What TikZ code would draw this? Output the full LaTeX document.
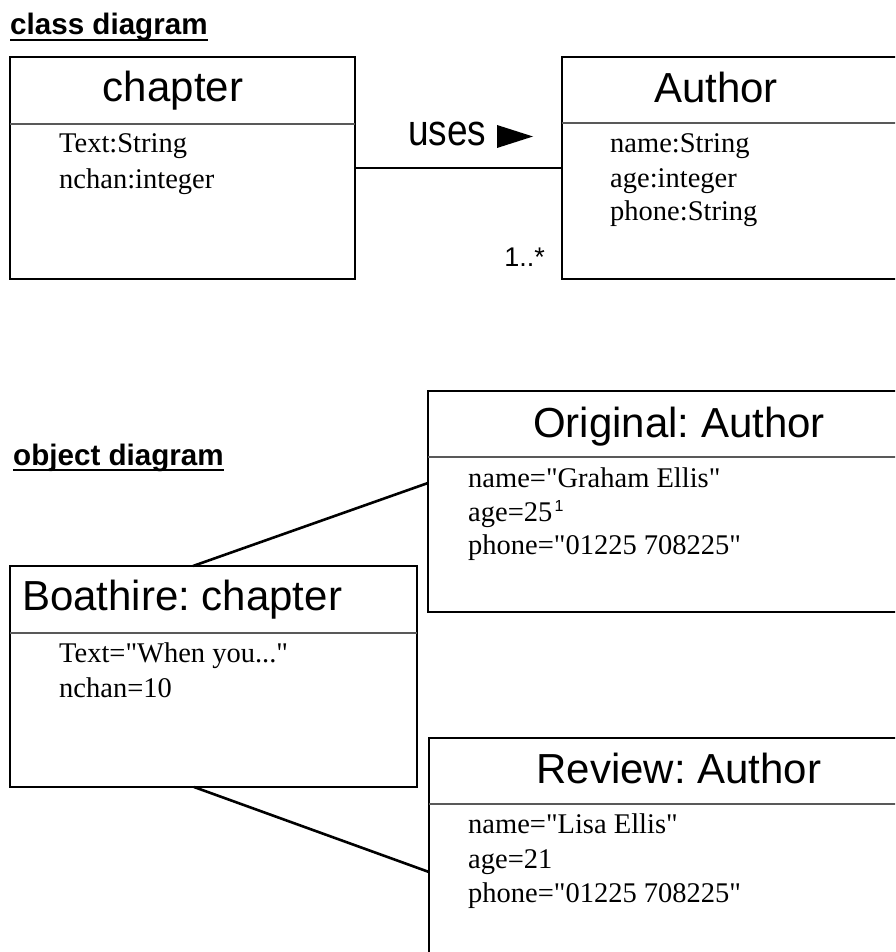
\documentclass[tikz,border=0pt]{standalone}
\usepackage{fontspec}
\setmainfont{Liberation Serif}[Ligatures=TeXOff]
\newfontfamily\arialf{Liberation Sans}[Ligatures=TeXOff]
\frenchspacing
\begin{document}
\begin{tikzpicture}[x=1pt,y=-1pt,
  umlbox/.style={draw, line width=2.6pt, rectangle, anchor=north west, inner sep=0pt, outer sep=0pt},
  divider/.style={line width=1.2pt, draw=black!65},
  titletext/.style={font=\arialf\fontsize{42}{48}\selectfont, anchor=base, inner sep=0pt},
  attr/.style={font=\fontsize{28.5}{34}\selectfont, anchor=base west, inner sep=0pt},
  heading/.style={font=\arialf\bfseries\fontsize{29.6}{33}\selectfont, anchor=base west, inner sep=0pt},
  headrule/.style={line width=2.2pt},
  assoc/.style={line width=2.6pt},
  sanslabel/.style={font=\arialf\fontsize{#1}{#1}\selectfont, inner sep=0pt}]

\useasboundingbox (0,0) rectangle (895,952);
\clip (0,0) rectangle (895,952);
\fill[white] (0,0) rectangle (895,952);

% ---------- class diagram ----------
\node[heading] (hclass) at (10,35) {class diagram};
\draw[headrule] ([yshift=-5pt]hclass.base west) -- ([yshift=-5pt]hclass.base east);

\node[umlbox, minimum width=345pt, minimum height=222pt] (chapter) at (10,57) {};
\draw[divider] (chapter.west |- 0,124) -- (chapter.east |- 0,124);
\node[titletext] (chaptitle) at (173,102) {chapter};
\node[attr] (ch1) at (59,153) {Text:String};
\node[attr] (ch2) at (59,188) {nchan:integer};

\node[umlbox, minimum width=345pt, minimum height=222pt] (author) at (562,57) {};
\draw[divider] (author.west |- 0,123) -- (author.east |- 0,123);
\node[titletext] (authtitle) at (716,103) {Author};
\node[attr] (au1) at (610,153) {name:String};
\node[attr] (au2) at (610,187) {age:integer};
\node[attr] (au3) at (610,220) {phone:String};

\draw[assoc] (chapter.east) -- (author.west);
\node[sanslabel=37, anchor=base west] (uses) at (408,146) {\scalebox{1}[1.18]{uses}};
\fill (497,125) -- (497,148) -- (533,136.5) -- cycle;
\node[sanslabel=27, anchor=base east] (mult) at (545,266) {1..*};

% ---------- object diagram ----------
\node[heading] (hobject) at (13,465) {object diagram};
\draw[headrule] ([yshift=-5pt]hobject.base west) -- ([yshift=-5pt]hobject.base east);

\node[umlbox, minimum width=500pt, minimum height=221pt] (orig) at (428,391) {};
\draw[divider] (orig.west |- 0,457) -- (orig.east |- 0,457);
\node[titletext] (origtitle) at (679,437) {Original: Author};
\node[attr] (or1) at (468,487) {name="Graham Ellis"};
\node[attr] (or2) at (468,521) {age=25};
\node[sanslabel=16, anchor=base west] (or2note) at ([xshift=2pt,yshift=10pt]or2.base east) {1};
\node[attr] (or3) at (468,554) {phone="01225 708225"};

\node[umlbox, minimum width=407pt, minimum height=221pt] (boat) at (10,566) {};
\draw[divider] (boat.west |- 0,633) -- (boat.east |- 0,633);
\node[titletext, anchor=base west] (boattitle) at (22,610) {Boathire: chapter};
\node[attr] (bo1) at (59,662) {Text="When you..."};
\node[attr] (bo2) at (59,697) {nchan=10};

\node[umlbox, minimum width=500pt, minimum height=250pt] (review) at (429,738) {};
\draw[divider] (review.west |- 0,804) -- (review.east |- 0,804);
\node[titletext] (revtitle) at (679,783) {Review: Author};
\node[attr] (re1) at (468,833) {name="Lisa Ellis"};
\node[attr] (re2) at (468,868) {age=21};
\node[attr] (re3) at (468,902) {phone="01225 708225"};

% links between the objects
\draw[assoc] ([xshift=183pt]boat.north west) -- ([yshift=-92pt]orig.north west);
\draw[assoc] ([xshift=184pt]boat.south west) -- ([yshift=-134pt]review.north west);

\end{tikzpicture}
\end{document}
